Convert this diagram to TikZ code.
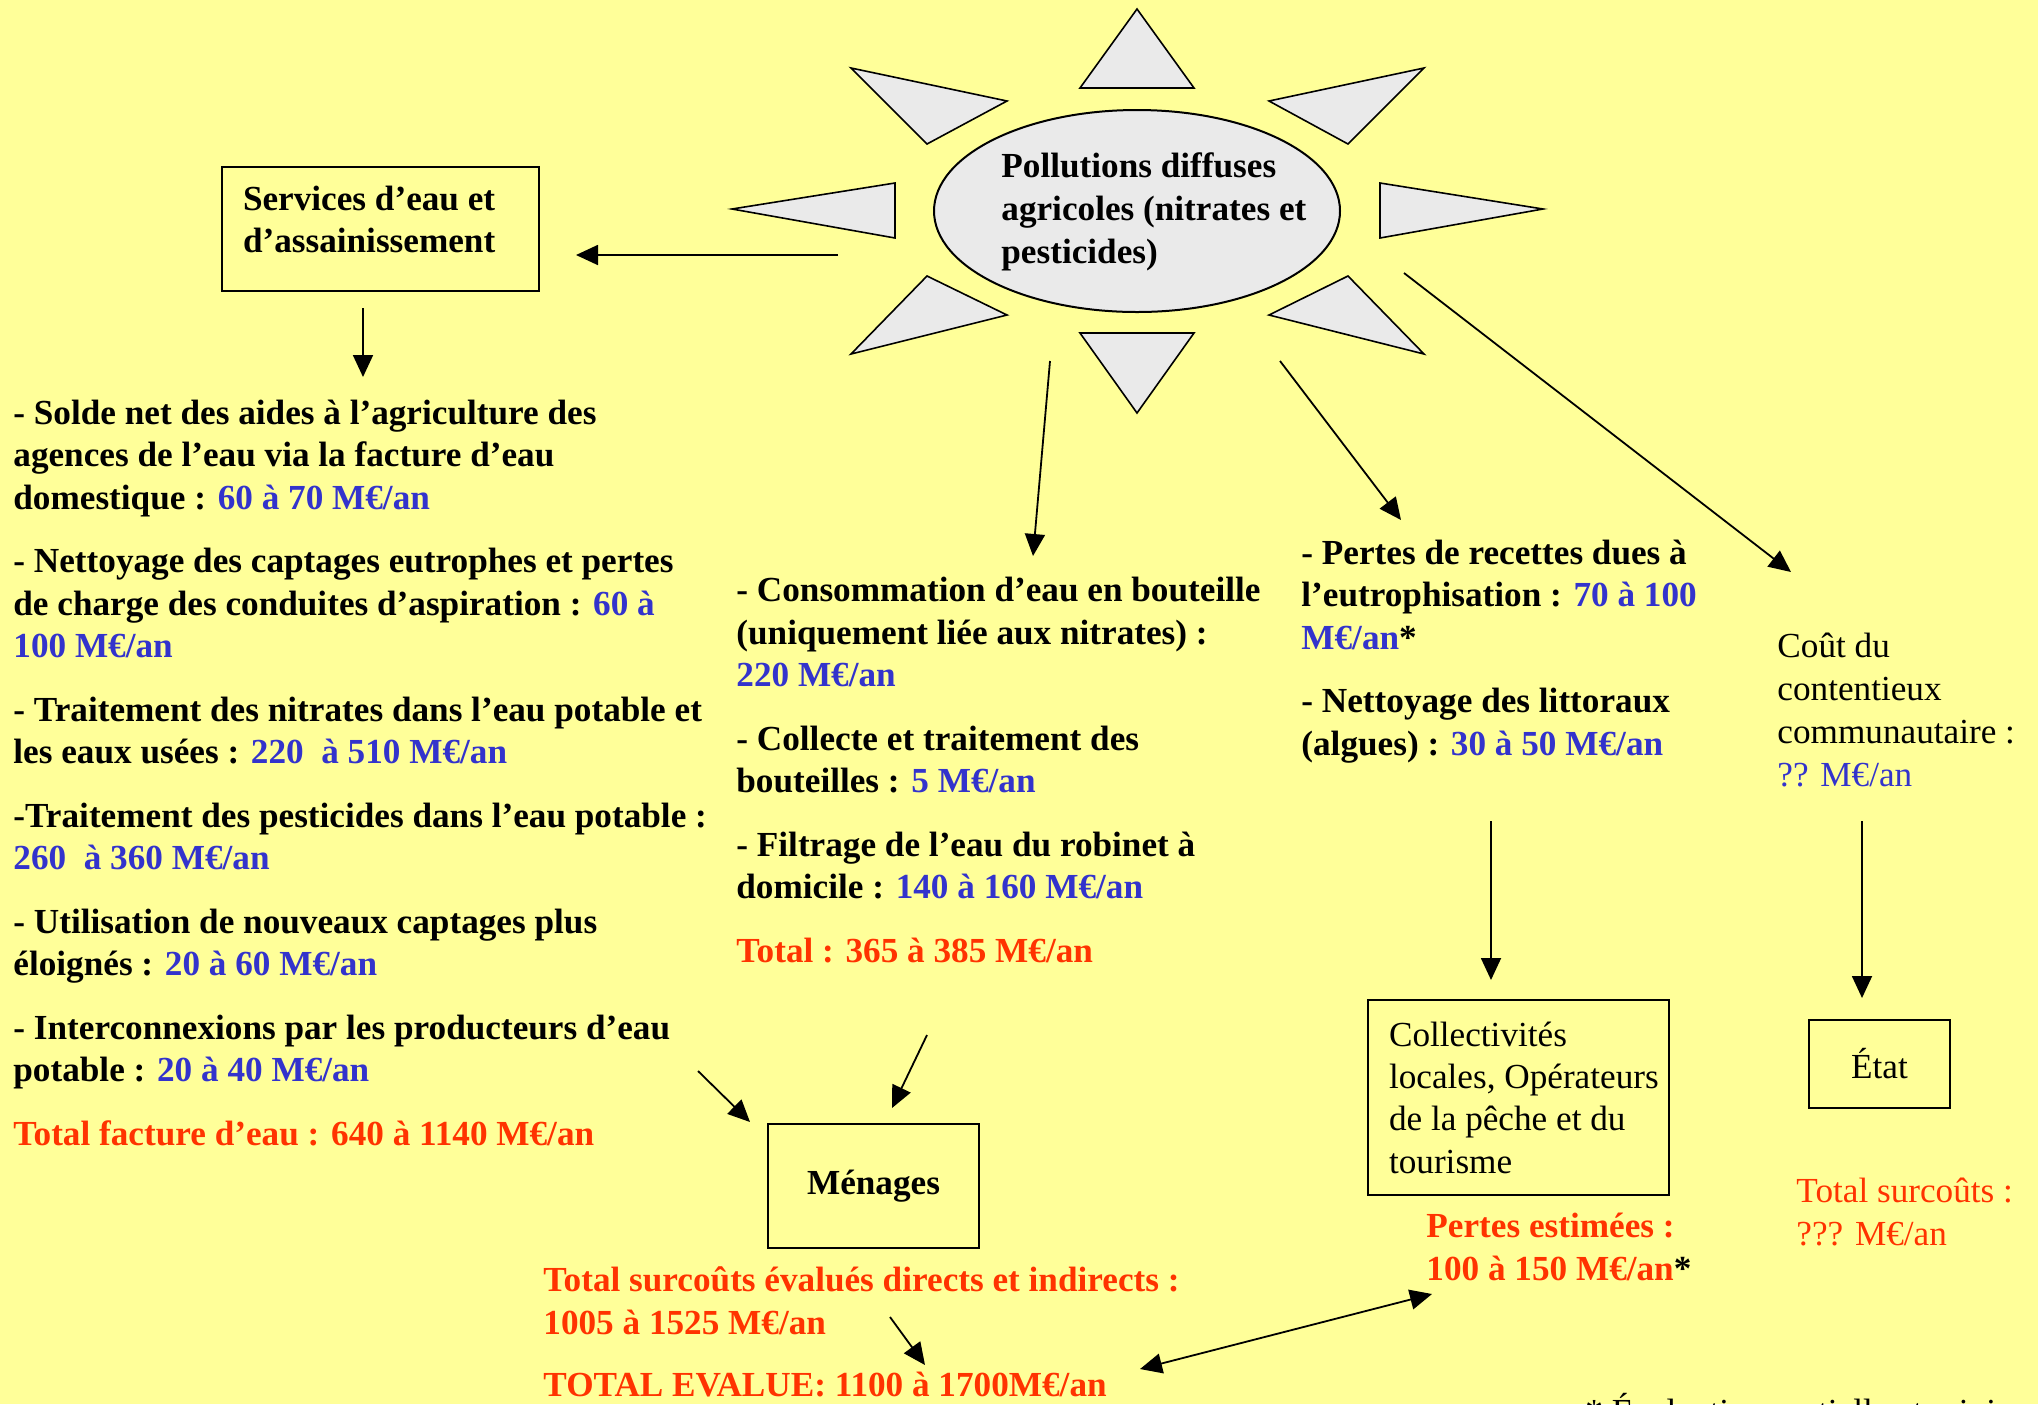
\documentclass[tikz,border=0pt]{standalone}
\usepackage{fontspec}
\setmainfont{Liberation Serif}
\usetikzlibrary{arrows.meta,shapes.geometric}
\definecolor{fond}{RGB}{255,255,153}
\definecolor{montant}{RGB}{51,51,204}
\definecolor{total}{RGB}{255,51,0}
\definecolor{soleil}{RGB}{234,234,234}
\newcommand{\corps}{\fontsize{17.6}{21.15}\selectfont}
\newcommand{\mont}[1]{\textcolor{montant}{#1}}

\begin{document}
\begin{tikzpicture}[x=0.5pt, y=-0.5pt,
        gras/.style={anchor=base west, align=left, inner sep=0pt, font=\corps\bfseries},
        maigre/.style={anchor=base west, align=left, inner sep=0pt, font=\corps},
        boite/.style={draw, line width=1pt, font=\corps},
        rayon/.style={draw, fill=soleil, line width=0.8pt, line join=miter},
        fleche/.style={->, line width=0.9pt, >={Triangle[length=11pt,width=10pt]}}
    ]
    \clip (0,0) rectangle (2038,1404);
    \fill[fond] (0,0) rectangle (2038,1404);
    % Soleil
    \filldraw[rayon] (1137,9) -- (1080,88) -- (1194,88) -- cycle;
    \filldraw[rayon] (1137,413) -- (1080,333) -- (1194,333) -- cycle;
    \filldraw[rayon] (732,209) -- (895,183) -- (895,238) -- cycle;
    \filldraw[rayon] (1543,209) -- (1380,183) -- (1380,238) -- cycle;
    \filldraw[rayon] (851,68) -- (1007,101) -- (927,144) -- cycle;
    \filldraw[rayon] (1424,68) -- (1269,101) -- (1348,144) -- cycle;
    \filldraw[rayon] (851,354) -- (1007,315) -- (927,276) -- cycle;
    \filldraw[rayon] (1424,354) -- (1269,315) -- (1348,276) -- cycle;
    \node[ellipse, draw, fill=soleil, line width=1pt, minimum width=203pt, minimum height=101pt, inner sep=0pt] (pollution) at (1137,211) {};
    \node[gras, anchor=west] (pollutiontexte) at (1001,212) {Pollutions diffuses\\[0.3pt]agricoles (nitrates et\\[0.3pt]pesticides)};
    % Noeuds
    \node[boite, anchor=north west, minimum width=158.5pt, minimum height=62pt, text width=137.5pt, text depth=31pt, inner xsep=10.5pt, align=flush left, font=\corps\bfseries] (services) at (221,166) {Services d’eau et\\d’assainissement};
    \node[gras] (facture) at (13,1145) {- Solde net des aides à l’agriculture des\\
        agences de l’eau via la facture d’eau\\
        domestique : \mont{60 à 70 M€/an}\\[10.7pt]
        - Nettoyage des captages eutrophes et pertes\\
        de charge des conduites d’aspiration : \mont{60 à}\\
        \mont{100 M€/an}\\[10.7pt]
        - Traitement des nitrates dans l’eau potable et\\
        les eaux usées : \mont{220\ \ à 510 M€/an}\\[10.7pt]
        -Traitement des pesticides dans l’eau potable :\\
        \mont{260\ \ à 360 M€/an}\\[10.7pt]
        - Utilisation de nouveaux captages plus\\
        éloignés : \mont{20 à 60 M€/an}\\[10.7pt]
        - Interconnexions par les producteurs d’eau\\
        potable : \mont{20 à 40 M€/an}\\[10.7pt]
        \textcolor{total}{Total facture d’eau : 640 à 1140 M€/an}};
    \node[gras] (bouteille) at (736,962) {- Consommation d’eau en bouteille\\
        (uniquement liée aux nitrates) :\\
        \mont{220 M€/an}\\[10.7pt]
        - Collecte et traitement des\\
        bouteilles : \mont{5 M€/an}\\[10.7pt]
        - Filtrage de l’eau du robinet à\\
        domicile : \mont{140 à 160 M€/an}\\[10.7pt]
        \textcolor{total}{Total : 365 à 385 M€/an}};
    \node[gras] (littoral) at (1301,755) {- Pertes de recettes dues à\\
        l’eutrophisation : \mont{70 à 100}\\
        \mont{M€/an}*\\[10.7pt]
        - Nettoyage des littoraux\\
        (algues) : \mont{30 à 50 M€/an}};
    \node[maigre] (contentieux) at (1777,786) {Coût du\\[0.3pt]contentieux\\[0.3pt]communautaire :\\[0.3pt]\mont{?? M€/an}};
    \node[boite, anchor=north west, minimum width=150.5pt, minimum height=97.5pt, text width=129.5pt, inner xsep=10.5pt, align=flush left] (collect) at (1367,999) {Collectivités\\\mbox{locales, Opérateurs}\\de la pêche et du\\tourisme};
    \node[boite, minimum width=70.5pt, minimum height=44pt] (etat) at (1879.5,1064) {État};
    \node[boite, minimum width=105.5pt, minimum height=62pt, font=\corps\bfseries] (menages) at (873.5,1186) {Ménages};
    \node[gras, text=total] (pertes) at (1426,1280) {Pertes estimées :\\100 à 150 M€/an\textcolor{black}{*}};
    \node[maigre, text=total] (surcouts) at (1796,1245) {Total surcoûts :\\??? M€/an};
    \node[gras, text=total] (evalues) at (543,1334) {Total surcoûts évalués directs et indirects :\\1005 à 1525 M€/an};
    \node[gras, text=total] (evalue) at (543,1396) {TOTAL EVALUE: 1100 à 1700M€/an};
    \node[maigre] (note) at (1585,1423) {* Évaluation partielle et minimale};
    % Flèches
    \coordinate (a1) at (838,255);  \coordinate (a2) at (576,255);
    \coordinate (b1) at (363,308);  \coordinate (b2) at (363,377);
    \coordinate (c1) at (1050,361); \coordinate (c2) at (1033,556);
    \coordinate (d1) at (1280,361); \coordinate (d2) at (1401,520);
    \coordinate (e1) at (1404,273); \coordinate (e2) at (1791,572);
    \coordinate (f1) at (1491,821); \coordinate (f2) at (1491,980);
    \coordinate (g1) at (1862,821); \coordinate (g2) at (1862,998);
    \coordinate (h1) at (698,1071); \coordinate (h2) at (750,1122);
    \coordinate (i1) at (927,1035); \coordinate (i2) at (892,1108);
    \coordinate (j1) at (890,1317); \coordinate (j2) at (925,1365);
    \coordinate (k1) at (1140,1369); \coordinate (k2) at (1432,1294);
    \draw[fleche] (a1) -- (a2);
    \draw[fleche] (b1) -- (b2);
    \draw[fleche] (c1) -- (c2);
    \draw[fleche] (d1) -- (d2);
    \draw[fleche] (e1) -- (e2);
    \draw[fleche] (f1) -- (f2);
    \draw[fleche] (g1) -- (g2);
    \draw[fleche] (h1) -- (h2);
    \draw[fleche] (i1) -- (i2);
    \draw[fleche] (j1) -- (j2);
    \draw[fleche, <->] (k1) -- (k2);
\end{tikzpicture}
\end{document}
